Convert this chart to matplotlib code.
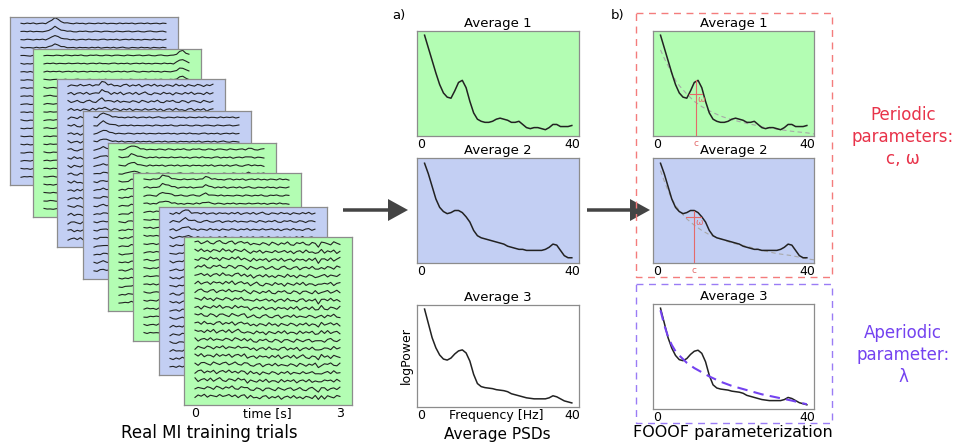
import numpy as np
import matplotlib.pyplot as plt
from matplotlib.patches import FancyArrow, Rectangle

# ---- data ----
# PSD curves (normalised log power, 0 = bottom of panel, 1 = top)
freqs = list(range(1, 41))
avg_1 = [0.96, 0.84, 0.72, 0.60, 0.49, 0.41, 0.37, 0.36, 0.43, 0.51,
         0.53, 0.46, 0.33, 0.22, 0.16, 0.14, 0.13, 0.13, 0.14, 0.16,
         0.17, 0.16, 0.15, 0.13, 0.13, 0.14, 0.11, 0.08, 0.07, 0.08,
         0.08, 0.07, 0.06, 0.08, 0.11, 0.11, 0.09, 0.09, 0.09, 0.10]
avg_2 = [0.95, 0.85, 0.73, 0.61, 0.53, 0.49, 0.47, 0.48, 0.50, 0.50,
         0.48, 0.44, 0.39, 0.31, 0.26, 0.24, 0.23, 0.22, 0.21, 0.20,
         0.19, 0.18, 0.16, 0.15, 0.14, 0.13, 0.13, 0.12, 0.12, 0.12,
         0.12, 0.12, 0.13, 0.15, 0.18, 0.17, 0.12, 0.07, 0.05, 0.05]
avg_3 = [0.96, 0.82, 0.68, 0.58, 0.51, 0.47, 0.46, 0.48, 0.52, 0.55,
         0.56, 0.53, 0.45, 0.32, 0.23, 0.20, 0.19, 0.185, 0.18, 0.17,
         0.165, 0.16, 0.15, 0.13, 0.12, 0.11, 0.10, 0.09, 0.085, 0.08,
         0.08, 0.08, 0.08, 0.09, 0.11, 0.10, 0.08, 0.06, 0.05, 0.04]
averages = [avg_1, avg_2, avg_3]

# aperiodic fits
ap_freqs = [1, 2, 3, 4, 5, 6, 8, 10, 12, 14, 17, 20, 24, 28, 32, 36, 40, 41.9]
ap_1 = [0.82, 0.74, 0.67, 0.60, 0.53, 0.48, 0.40, 0.33, 0.28, 0.24, 0.19,
        0.155, 0.12, 0.09, 0.065, 0.045, 0.03, 0.02]
ap_2 = [0.88, 0.78, 0.69, 0.61, 0.55, 0.50, 0.42, 0.36, 0.31, 0.27, 0.23,
        0.19, 0.16, 0.12, 0.09, 0.07, 0.04, 0.03]
ap_3 = [0.94, 0.80, 0.69, 0.61, 0.55, 0.51, 0.44, 0.39, 0.35, 0.31, 0.26,
        0.22, 0.18, 0.14, 0.11, 0.08, 0.045]

# periodic parameters (centre c, width omega) for averages 1 and 2
peak_c = [10.4, 9.8]
peak_top = [0.53, 0.50]
width_y = [0.40, 0.44]
width_lo = [8.7, 7.8]
width_hi = [12.0, 11.8]

# EEG trials: 8 stacked trials, 20 channels, 48 samples over 3 s
trial_colors = ['blue', 'green', 'blue', 'blue', 'green', 'green', 'blue', 'green']
noise_a = [0.3, -0.5, 0.6, -0.2, 0.8, -0.7, 0.1, 0.5, -0.4, 0.7, -0.6, 0.2,
           0.9, -0.3, -0.7, 0.4, 0.1, -0.5, 0.7, -0.1, 0.3, -0.8, 0.5, 0.0,
           -0.4, 0.6, -0.2, 0.8, -0.5, 0.2, 0.1, -0.6, 0.7, -0.3, 0.4, -0.1,
           0.6, -0.7, 0.2, 0.5, -0.3, 0.7, -0.5, 0.1, 0.4, -0.6, 0.5, 0.0]
noise_b = [-0.4, 0.5, 0.1, -0.6, 0.7, 0.2, -0.5, 0.4, -0.1, 0.8, -0.4, -0.6,
           0.5, 0.1, 0.7, -0.3, -0.5, 0.6, 0.2, -0.7, 0.4, 0.5, -0.1, -0.6,
           0.7, 0.1, -0.4, 0.3, 0.6, -0.5, 0.0, 0.7, -0.3, -0.6, 0.4, 0.8,
           -0.2, -0.5, 0.3, 0.6, -0.7, 0.1, 0.4, -0.3, 0.7, -0.4, 0.2, -0.1]
noise_c = [0.1, 0.6, -0.3, 0.4, -0.7, 0.2, 0.5, -0.4, 0.8, -0.2, 0.0, -0.6,
           0.4, 0.7, -0.5, 0.3, -0.2, 0.6, -0.8, 0.1, 0.5, -0.3, 0.7, -0.4,
           0.2, -0.6, 0.4, 0.1, -0.5, 0.8, -0.2, 0.3, -0.7, 0.5, 0.0, -0.4,
           0.6, 0.2, -0.6, 0.4, -0.1, 0.7, -0.5, 0.3, 0.0, -0.3, 0.6, -0.2]
noises = [noise_a, noise_b, noise_c]
noise_amp = [0.08, 0.08, 0.22, 0.10, 0.12, 0.12, 0.18, 0.30]
bumps = [
    [0] * 9 + [0.15, 0.45, 0.7, 0.45, 0.25, 0.12, 0.05] + [0] * 32,
    [0] * 43 + [0.2, 0.5, 0.6, 0.3, 0.1],
    [0] * 10 + [0.2, 0.45, 0.3, 0.15] + [0] * 34,
    [0] * 2 + [0.3, 0.6, 0.4, 0.25, 0.12, 0.05] + [0] * 40,
    [0] * 3 + [0.2, 0.5, 0.4, 0.25, 0.1] + [0] * 34 + [0.15, 0.05] + [0] * 4,
    [0] * 5 + [0.2, 0.5, 0.45, 0.3, 0.15, 0.05] + [0] * 8 + [0.15, 0.35, 0.2, 0.08] + [0] * 25,
    [0] * 4 + [0.2, 0.45, 0.3, 0.15, 0.05] + [0] * 39,
    [0.12] * 17 + [-0.05] * 22 + [-0.05, -0.25, 0.05, -0.05] + [0] * 5,
]
erp_gain = [1.0, 0.85, 0.75, 0.65, 0.55, 0.45, 0.4, 0.35, 0.3, 0.3,
            0.3, 0.3, 0.3, 0.3, 0.3, 0.3, 0.3, 0.3, 0.3, 0.3]

GREEN = '#b3fdb3'
BLUE = '#c3cff3'
LINE = '#222222'
RED = '#e8334a'
PURPLE = '#7442f0'

W, H = 954, 445
fig = plt.figure(figsize=(W / 100, H / 100), dpi=100)


def box(x0, y0, x1, y1):
    return fig.add_axes([x0 / W, 1 - y1 / H, (x1 - x0) / W, (y1 - y0) / H])


def style(ax, face):
    ax.set_facecolor(face)
    for s in ax.spines.values():
        s.set_color('#8c8c8c')
        s.set_linewidth(0.9)
    ax.set_yticks([])
    ax.tick_params(axis='x', length=0, pad=1.5, labelsize=9)


# ---- stacked EEG trials ----
trial_x = [10, 33, 57, 83, 108, 133, 159, 184]
trial_y = [17, 49, 79, 111, 143, 173, 207, 237]
t = np.linspace(0, 3, 48)
for p in range(8):
    ax = box(trial_x[p], trial_y[p], trial_x[p] + 168, trial_y[p] + 168)
    style(ax, BLUE if trial_colors[p] == 'blue' else GREEN)
    gain = erp_gain if p < 7 else [1.0] * 20
    for ch in range(20):
        w = np.roll(noises[(ch + p) % 3], ch * 7 + p * 3)
        y = (19 - ch) + noise_amp[p] * w + np.array(bumps[p]) * gain[ch]
        ax.plot(t, y, color=LINE, lw=0.8)
    ax.set_xlim(-0.228, 3.25)
    ax.set_ylim(-1.0, 19.8)
    if p == 7:
        ax.set_xticks([0, 1.5, 3])
        ax.set_xticklabels(['0', 'time [s]', '3'])
    else:
        ax.set_xticks([])

# ---- PSD panels ----
faces = [GREEN, BLUE, 'white']
mid_boxes = [(417, 31, 579, 136), (417, 158, 579, 263), (417, 305, 579, 407)]
right_boxes = [(653, 31, 814, 136), (653, 158, 814, 263), (653, 304, 814, 409)]
aps = [ap_1, ap_2, ap_3]

for col, boxes in enumerate([mid_boxes, right_boxes]):
    for i in range(3):
        ax = box(*boxes[i])
        style(ax, faces[i])
        ax.plot(freqs, averages[i], color=LINE, lw=1.1, zorder=3)
        ax.set_xlim(-1.0, 41.9)
        ax.set_ylim(0, 1)
        ax.set_title('Average %d' % (i + 1), fontsize=9.5, pad=3)
        if col == 0 and i == 2:
            ax.set_xticks([0, 20, 40])
            ax.set_xticklabels(['0', 'Frequency [Hz]', '40'])
            ax.set_ylabel('logPower', fontsize=9, labelpad=3)
        else:
            ax.set_xticks([0, 40])
        if col == 1:
            if i < 2:
                ax.plot(ap_freqs, aps[i], color='#a8a8a8', lw=0.8,
                        ls=(0, (4, 3)), zorder=2)
                ax.plot([peak_c[i], peak_c[i]], [0, peak_top[i]],
                        color='#e46a6a', lw=0.8, zorder=4)
                ax.plot([width_lo[i], width_hi[i]], [width_y[i], width_y[i]],
                        color='#e46a6a', lw=0.8, zorder=4)
                ax.text(peak_c[i] + 0.4, width_y[i] - 0.01, '\u03c9', color='#e46a6a',
                        fontsize=6.5, va='top', ha='left')
                ax.text(peak_c[i], -0.03, 'c', color='#e46a6a', fontsize=6.5,
                        ha='center', va='top', transform=ax.get_xaxis_transform())
            else:
                ax.plot(ap_freqs[:len(ap_3)], ap_3, color=PURPLE, lw=1.5,
                        ls=(0, (5, 3)), zorder=4)

# ---- overlay: arrows, boxes, labels ----
ov = fig.add_axes([0, 0, 1, 1])
ov.set_xlim(0, W)
ov.set_ylim(H, 0)
ov.axis('off')
ov.patch.set_alpha(0)

for x0, x1 in [(343, 408), (587, 650)]:
    ov.add_patch(FancyArrow(x0, 210, x1 - x0, 0, width=3.5, head_width=22,
                            head_length=20, length_includes_head=True,
                            color='#444444', lw=0))

ov.add_patch(Rectangle((636, 13), 196, 264, fill=False, ec='#f47c7c',
                       lw=1.0, ls=(0, (5, 4))))
ov.add_patch(Rectangle((636, 284), 196, 139, fill=False, ec='#9a7cf5',
                       lw=1.0, ls=(0, (5, 4))))

ov.text(209, 433, 'Real MI training trials', fontsize=12, ha='center', va='center')
ov.text(497, 434, 'Average PSDs', fontsize=11, ha='center', va='center')
ov.text(733, 433, 'FOOOF parameterization', fontsize=11.5, ha='center', va='center')
ov.text(392, 15, 'a)', fontsize=9.5, ha='left', va='center')
ov.text(611, 16, 'b)', fontsize=9.5, ha='left', va='center')
ov.text(903, 137, 'Periodic\nparameters:\nc, \u03c9', fontsize=12, color=RED,
        ha='center', va='center', linespacing=1.3)
ov.text(903, 355, 'Aperiodic\nparameter:\n\u03bb', fontsize=12, color=PURPLE,
        ha='center', va='center', linespacing=1.3)

fig.savefig('out.png', dpi=100)
